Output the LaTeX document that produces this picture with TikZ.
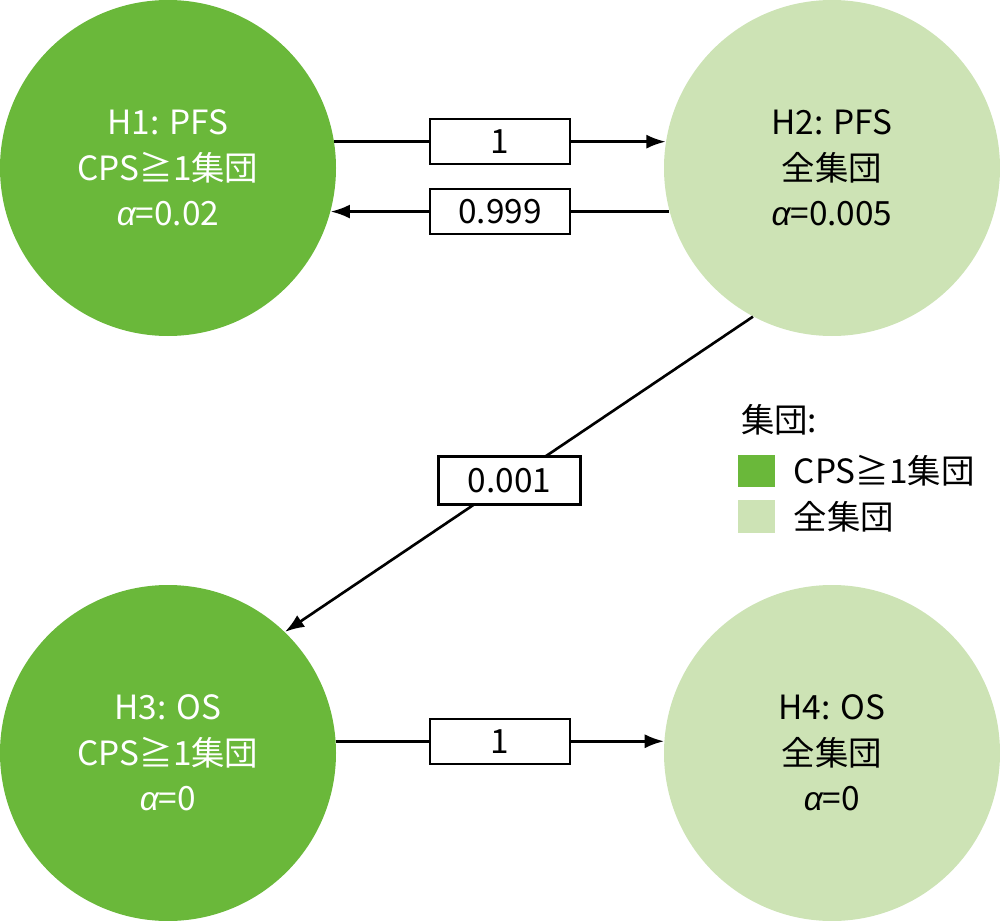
\documentclass[tikz,border=0pt]{standalone}
\usepackage{fontspec}
\setmainfont{Noto Sans CJK JP}
\newfontfamily\grk{Liberation Sans}
\newcommand{\alp}{{\grk\itshape α}}
\usetikzlibrary{arrows.meta}
\definecolor{cpsgreen}{HTML}{6AB83A}
\definecolor{allgreen}{HTML}{CDE3B5}
\tikzstyle{hyp}=[circle,minimum size=6.72cm,inner sep=0pt,align=center,font=\fontsize{19}{26}\selectfont]
\tikzstyle{conn}=[line width=1.5pt,-{Latex[length=11pt,width=8pt]}]
\tikzstyle{weight}=[draw,line width=1.3pt,fill=white,minimum width=2.8cm,minimum height=0.9cm,inner sep=0pt,font=\fontsize{19}{22}\selectfont]

\begin{document}
\begin{tikzpicture}
\useasboundingbox (0,0) rectangle (20,-18.42);
\node[hyp,fill=cpsgreen,text=white] (H1) at (3.36,-3.36) {H1: PFS\\CPS≧1集団\\\alp=0.02};
\node[hyp,fill=allgreen] (H2) at (16.64,-3.36) {H2: PFS\\全集団\\\alp=0.005};
\node[hyp,fill=cpsgreen,text=white] (H3) at (3.36,-15.06) {H3: OS\\CPS≧1集団\\\alp=0};
\node[hyp,fill=allgreen] (H4) at (16.64,-15.06) {H4: OS\\全集団\\\alp=0};

\draw[conn] (H1.9) -- node[weight] {1} (H2.171);
\draw[conn] (H2.195) -- node[weight] {0.999} (H1.-15);
\draw[conn] (H3.4) -- node[weight] {1} (H4.176);
\draw[conn] (H2.-118) -- node[weight,pos=0.52,minimum width=2.84cm,minimum height=0.96cm] {0.001} (H3.46);

% legend
\node[anchor=west,font=\fontsize{19}{22}\selectfont] (leg) at (14.7,-8.4) {集団:};
\fill[cpsgreen] (14.76,-9.1) rectangle (15.5,-9.74);
\fill[allgreen] (14.76,-10.0) rectangle (15.5,-10.66);
\node[anchor=west,font=\fontsize{19}{22}\selectfont] (lcps) at (15.75,-9.42) {CPS≧1集団};
\node[anchor=west,font=\fontsize{19}{22}\selectfont] (lall) at (15.75,-10.33) {全集団};
\end{tikzpicture}
\end{document}
